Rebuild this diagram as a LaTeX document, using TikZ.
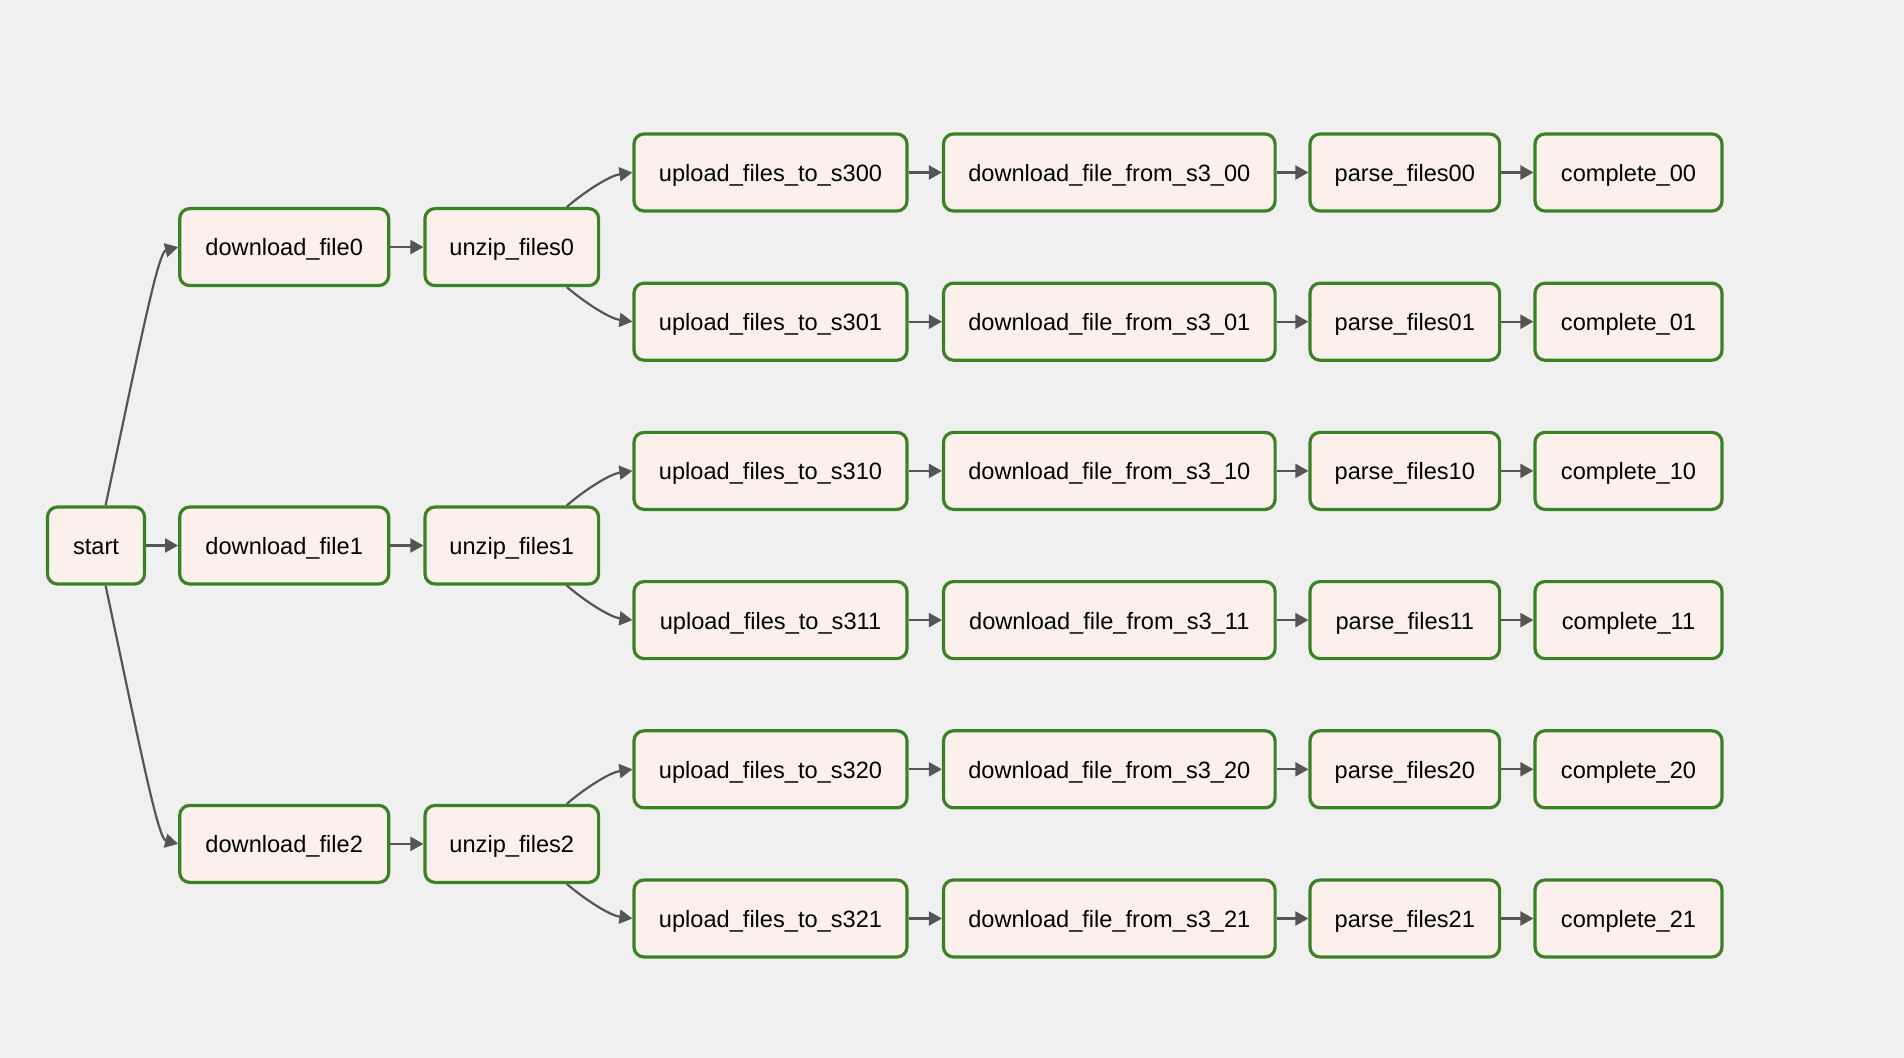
\documentclass[tikz,border=0pt]{standalone}
\usepackage{fontspec}
\setmainfont{Liberation Sans}
\usetikzlibrary{arrows.meta,calc}

\definecolor{canvas}{HTML}{F0F0F0}
\definecolor{taskfill}{HTML}{FBF0EB}
\definecolor{taskline}{HTML}{3A8224}
\definecolor{edgegrey}{HTML}{555555}

\tikzset{
  task/.style={draw=taskline, fill=taskfill, line width=1.6pt, rounded corners=5pt,
    minimum height=38.5pt, inner sep=0pt, text=black,
    text height=8.9pt, text depth=0pt,
    font=\fontsize{11.8}{14}\selectfont},
  startw/.style={minimum width=48.5pt},
  dlw/.style={minimum width=104.5pt},
  uzw/.style={minimum width=86.8pt},
  upw/.style={minimum width=136.5pt},
  s3w/.style={minimum width=165.8pt},
  pfw/.style={minimum width=94.8pt},
  cpw/.style={minimum width=93.5pt},
  link/.style={draw=edgegrey, line width=1.1pt,
    -{Triangle[length=6.5pt,width=7pt]}},
}

\begin{document}
\begin{tikzpicture}[x=0.5pt,y=-0.5pt]
  \fill[canvas] (0,0) rectangle (1904,1058);
  \useasboundingbox (0,0) rectangle (1904,1058);

  \node[task,startw] (st) at (96,545.5) {start};

  \foreach \i/\gy in {0/247.1,1/545.5,2/843.9}{
    \node[task,dlw] (dl\i) at (284.2,\gy) {download\_file\i};
    \node[task,uzw] (uz\i) at (511.8,\gy) {unzip\_files\i};
    \draw[link] (dl\i) -- (uz\i);
    \foreach \j/\dy in {0/-74.6,1/74.6}{
      \node[task,upw] (up\i\j) at (770.5,\gy+\dy) {upload\_files\_to\_s3\i\j};
      \node[task,s3w] (s3\i\j) at (1109.3,\gy+\dy) {download\_file\_from\_s3\_\i\j};
      \node[task,pfw] (pf\i\j) at (1404.8,\gy+\dy) {parse\_files\i\j};
      \node[task,cpw] (cp\i\j) at (1628.5,\gy+\dy) {complete\_\i\j};
      \draw[link] (up\i\j) -- (s3\i\j);
      \draw[link] (s3\i\j) -- (pf\i\j);
      \draw[link] (pf\i\j) -- (cp\i\j);
    }
    % fan-out from each unzip step to its two uploads
    \draw[link] ($(uz\i.north)+(55,0)$) .. controls +(20,-17) and +(-22,3) .. (up\i0.west);
    \draw[link] ($(uz\i.south)+(55,0)$) .. controls +(20,17) and +(-22,-3) .. (up\i1.west);
  }

  % fan-out from start to the three downloads
  \draw[link] (st) -- (dl1);
  \draw[link] ($(st.north)+(9.6,0)$) .. controls +(35,-165) and +(-20,5) .. (dl0.west);
  \draw[link] ($(st.south)+(9.6,0)$) .. controls +(35,165) and +(-20,-5) .. (dl2.west);
\end{tikzpicture}
\end{document}
